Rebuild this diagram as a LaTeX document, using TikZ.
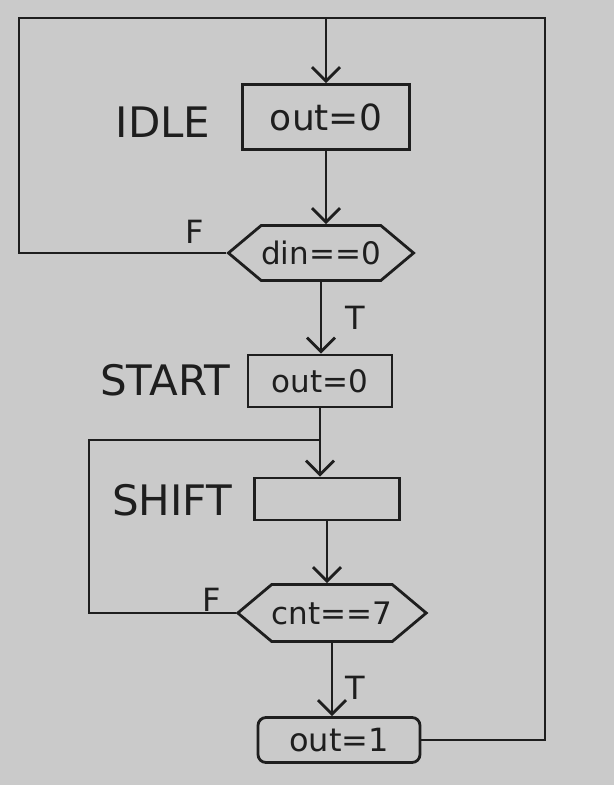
\documentclass[tikz,border=0pt]{standalone}
\usepackage{fontspec}
\setmainfont{DejaVu Sans}
\usetikzlibrary{arrows.meta,shapes.symbols}
\definecolor{bgc}{RGB}{202,202,202}
\definecolor{ink}{RGB}{30,30,30}
\tikzset{
  ln/.style={draw=ink,line width=2.8pt},
  arr/.style={ln,-{Straight Barb[length=14pt,width=28pt,line width=2.8pt]}},
  boxst/.style={ln,rectangle,inner sep=0pt,font=\fontsize{36}{40}\selectfont,text=ink},
  hexst/.style={ln,signal,signal to=west and east,signal pointer angle=80,inner sep=0pt,
    font=\fontsize{31}{36}\selectfont,text=ink},
  lbl/.style={font=\fontsize{42}{46}\selectfont,text=ink,inner sep=0pt},
  tf/.style={font=\fontsize{32}{36}\selectfont,text=ink,inner sep=0pt}
}
\begin{document}
\begin{tikzpicture}[x=1pt,y=-1pt]
\useasboundingbox[fill=bgc] (0,0) rectangle (614,785);
\node[boxst,minimum width=167pt,minimum height=65pt] (idle) at (326,117) {out=0};
\node[hexst,minimum width=183pt,minimum height=55pt] (d1) at (321,253) {din==0};
\node[boxst,minimum width=144pt,minimum height=52pt,font=\fontsize{31}{36}\selectfont] (start) at (320,381) {out=0};
\node[boxst,minimum width=145pt,minimum height=42pt] (shift) at (327,499) {};
\node[hexst,minimum width=175pt,minimum height=57pt] (d2) at (332,613) {cnt==7};
\node[boxst,rounded corners=8pt,minimum width=162pt,minimum height=45pt,font=\fontsize{32}{36}\selectfont] (o1) at (339,740) {out=1};
\node[lbl] (lidle) at (163,122) {IDLE};
\node[lbl] (lstart) at (165,380) {START};
\node[lbl] (lshift) at (172,500) {SHIFT};
\node[tf] (t1) at (355,318) {T};
\node[tf] (f1) at (195,232) {F};
\node[tf] (f2) at (212,600) {F};
\node[tf] (t2) at (355,688) {T};
\coordinate (tl) at (19,18);
\coordinate (tr) at (545,18);
\coordinate (sl) at (89,440);
% main column
\draw[arr] (idle.south) -- (idle.south |- d1.north);
\draw[arr] (d1.south) -- (d1.south |- start.north);
\draw[arr] (start.south) -- (start.south |- shift.north);
\draw[arr] (shift.south) -- (shift.south |- d2.north);
\draw[arr] (d2.south) -- (d2.south |- o1.north);
% loops
\draw[arr] (d1.west) -- (d1.west -| tl) -- (tl) -- (idle.north |- tl) -- (idle.north);
\draw[ln] (o1.east) -| (tr) -- (idle.north |- tl);
\draw[ln] (d2.west) -- (d2.west -| sl) -- (sl) -- (start.south |- sl);
\end{tikzpicture}
\end{document}
